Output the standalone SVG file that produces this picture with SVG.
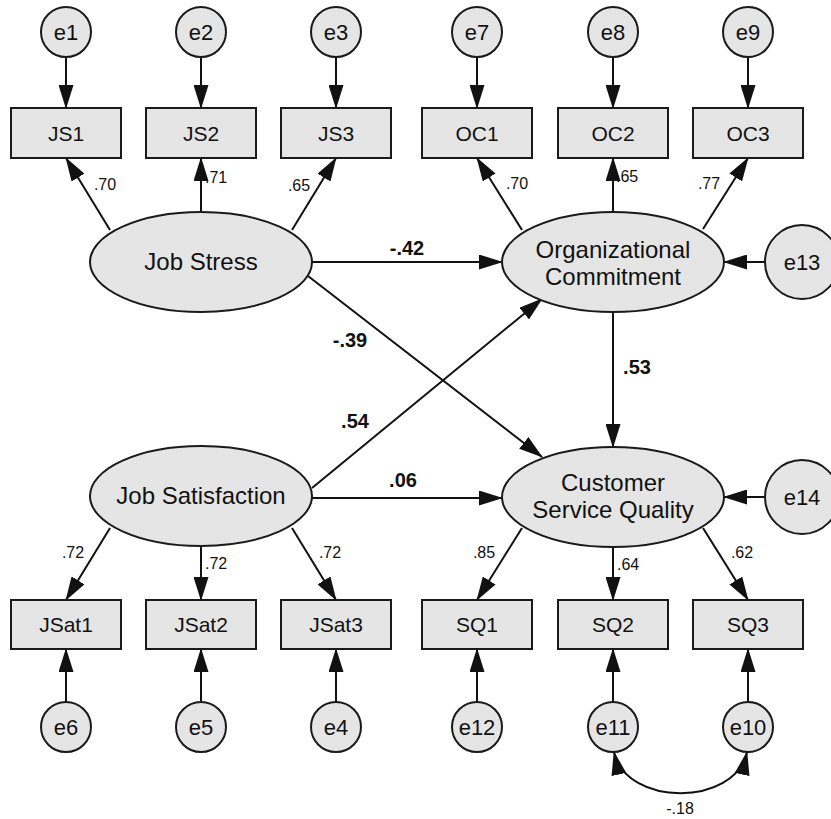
<svg xmlns="http://www.w3.org/2000/svg" width="831" height="819" viewBox="0 0 831 819">
<defs>
<style>
.nd{fill:#e5e5e5;stroke:#1a1a1a;stroke-width:2}
.t{font-family:"Liberation Sans",Arial,Helvetica,sans-serif;fill:#111;text-anchor:middle}
.lat{font-size:24px}
.obs{font-size:21px}
.err{font-size:22px}
.sm{font-family:"Liberation Sans",Arial,Helvetica,sans-serif;fill:#111;font-size:16px;text-anchor:middle}
.bd{font-family:"Liberation Sans",Arial,Helvetica,sans-serif;fill:#111;font-size:20px;font-weight:bold;text-anchor:middle}
.cn{fill:none;stroke:#111;stroke-width:2;marker-end:url(#ah)}
.cv{fill:none;stroke:#111;stroke-width:2;marker-end:url(#ah);marker-start:url(#ah2)}
</style>
<marker id="ah" viewBox="0 0 24 15" refX="23" refY="7.5" markerWidth="24" markerHeight="15" markerUnits="userSpaceOnUse" orient="auto"><path d="M0,0 L24,7.5 L0,15 z" fill="#111"/></marker>
<marker id="ah2" viewBox="0 0 24 15" refX="23" refY="7.5" markerWidth="24" markerHeight="15" markerUnits="userSpaceOnUse" orient="auto-start-reverse"><path d="M0,0 L24,7.5 L0,15 z" fill="#111"/></marker>
</defs>
<rect x="0" y="0" width="831" height="819" fill="#fff"/>

<g id="connectors">
<!-- error to top indicators -->
<line class="cn" x1="66" y1="57" x2="66" y2="108"/>
<line class="cn" x1="201" y1="57" x2="201" y2="108"/>
<line class="cn" x1="336" y1="57" x2="336" y2="108"/>
<line class="cn" x1="477" y1="57" x2="477" y2="108"/>
<line class="cn" x1="613" y1="57" x2="613" y2="108"/>
<line class="cn" x1="748" y1="57" x2="748" y2="108"/>
<!-- loadings top -->
<line class="cn" x1="110" y1="230" x2="66" y2="158"/>
<line class="cn" x1="201" y1="212" x2="201" y2="158"/>
<line class="cn" x1="292" y1="230" x2="336" y2="158"/>
<line class="cn" x1="522" y1="230" x2="477" y2="158"/>
<line class="cn" x1="613" y1="212" x2="613" y2="158"/>
<line class="cn" x1="703" y1="229" x2="748" y2="158"/>
<!-- disturbances -->
<line class="cn" x1="765" y1="262" x2="724" y2="262"/>
<line class="cn" x1="765" y1="497" x2="724" y2="497"/>
<!-- structural -->
<line class="cn" x1="312" y1="262" x2="502" y2="262"/>
<line class="cn" x1="308" y1="276" x2="542" y2="457"/>
<line class="cn" x1="312" y1="488" x2="542" y2="299"/>
<line class="cn" x1="312" y1="498" x2="502" y2="498"/>
<line class="cn" x1="613" y1="312" x2="613" y2="447"/>
<!-- loadings bottom -->
<line class="cn" x1="110" y1="528" x2="66" y2="600"/>
<line class="cn" x1="201" y1="546" x2="201" y2="600"/>
<line class="cn" x1="292" y1="528" x2="336" y2="600"/>
<line class="cn" x1="522" y1="528" x2="477" y2="600"/>
<line class="cn" x1="613" y1="547" x2="613" y2="600"/>
<line class="cn" x1="703" y1="528" x2="748" y2="600"/>
<!-- error to bottom indicators -->
<line class="cn" x1="66" y1="702" x2="66" y2="649"/>
<line class="cn" x1="201" y1="702" x2="201" y2="649"/>
<line class="cn" x1="336" y1="702" x2="336" y2="649"/>
<line class="cn" x1="477" y1="702" x2="477" y2="649"/>
<line class="cn" x1="613" y1="702" x2="613" y2="649"/>
<line class="cn" x1="748" y1="702" x2="748" y2="649"/>
<!-- covariance -->
<path class="cv" d="M614,752 C626,807 735,807 747,752"/>
<!-- labels -->
<text class="sm" x="105" y="190">.70</text>
<text class="sm" x="205" y="183" style="text-anchor:start">.71</text>
<text class="sm" x="299" y="191">.65</text>
<text class="sm" x="517" y="189">.70</text>
<text class="sm" x="616" y="182" style="text-anchor:start">.65</text>
<text class="sm" x="709" y="189">.77</text>
<text class="sm" x="73" y="558">.72</text>
<text class="sm" x="205" y="569" style="text-anchor:start">.72</text>
<text class="sm" x="330" y="558">.72</text>
<text class="sm" x="484" y="558">.85</text>
<text class="sm" x="617" y="570" style="text-anchor:start">.64</text>
<text class="sm" x="742" y="558">.62</text>
<text class="sm" x="680" y="814">-.18</text>
<text class="bd" x="407" y="255">-.42</text>
<text class="bd" x="350" y="347">-.39</text>
<text class="bd" x="355" y="428">.54</text>
<text class="bd" x="403" y="487">.06</text>
<text class="bd" x="637" y="374">.53</text>
</g>

<g id="e1"><circle class="nd" cx="66" cy="32" r="25"/><text class="t err" x="66" y="40">e1</text></g>
<g id="e2"><circle class="nd" cx="201" cy="32" r="25"/><text class="t err" x="201" y="40">e2</text></g>
<g id="e3"><circle class="nd" cx="336" cy="32" r="25"/><text class="t err" x="336" y="40">e3</text></g>
<g id="e7"><circle class="nd" cx="477" cy="32" r="25"/><text class="t err" x="477" y="40">e7</text></g>
<g id="e8"><circle class="nd" cx="613" cy="32" r="25"/><text class="t err" x="613" y="40">e8</text></g>
<g id="e9"><circle class="nd" cx="748" cy="32" r="25"/><text class="t err" x="748" y="40">e9</text></g>

<g id="JS1"><rect class="nd" x="11" y="108" width="110" height="50"/><text class="t obs" x="66" y="141">JS1</text></g>
<g id="JS2"><rect class="nd" x="146" y="108" width="110" height="50"/><text class="t obs" x="201" y="141">JS2</text></g>
<g id="JS3"><rect class="nd" x="281" y="108" width="110" height="50"/><text class="t obs" x="336" y="141">JS3</text></g>
<g id="OC1"><rect class="nd" x="422" y="108" width="110" height="50"/><text class="t obs" x="477" y="141">OC1</text></g>
<g id="OC2"><rect class="nd" x="558" y="108" width="110" height="50"/><text class="t obs" x="613" y="141">OC2</text></g>
<g id="OC3"><rect class="nd" x="693" y="108" width="110" height="50"/><text class="t obs" x="748" y="141">OC3</text></g>

<g id="JobStress"><ellipse class="nd" cx="201" cy="262" rx="111" ry="50"/><text class="t lat" x="201" y="270">Job Stress</text></g>
<g id="OrgCommitment"><ellipse class="nd" cx="613" cy="262" rx="111" ry="50"/><text class="t lat" x="613" y="258">Organizational</text><text class="t lat" x="613" y="285">Commitment</text></g>
<g id="e13"><circle class="nd" cx="802" cy="262" r="37"/><text class="t err" x="802" y="270">e13</text></g>

<g id="JobSatisfaction"><ellipse class="nd" cx="201" cy="496" rx="111" ry="50"/><text class="t lat" x="201" y="504">Job Satisfaction</text></g>
<g id="CSQ"><ellipse class="nd" cx="613" cy="497" rx="111" ry="50"/><text class="t lat" x="613" y="491">Customer</text><text class="t lat" x="613" y="518">Service Quality</text></g>
<g id="e14"><circle class="nd" cx="802" cy="497" r="37"/><text class="t err" x="802" y="505">e14</text></g>

<g id="JSat1"><rect class="nd" x="11" y="600" width="110" height="49"/><text class="t obs" x="66" y="632">JSat1</text></g>
<g id="JSat2"><rect class="nd" x="146" y="600" width="110" height="49"/><text class="t obs" x="201" y="632">JSat2</text></g>
<g id="JSat3"><rect class="nd" x="281" y="600" width="110" height="49"/><text class="t obs" x="336" y="632">JSat3</text></g>
<g id="SQ1"><rect class="nd" x="422" y="600" width="110" height="49"/><text class="t obs" x="477" y="632">SQ1</text></g>
<g id="SQ2"><rect class="nd" x="558" y="600" width="110" height="49"/><text class="t obs" x="613" y="632">SQ2</text></g>
<g id="SQ3"><rect class="nd" x="693" y="600" width="110" height="49"/><text class="t obs" x="748" y="632">SQ3</text></g>

<g id="e6"><circle class="nd" cx="66" cy="727" r="25"/><text class="t err" x="66" y="735">e6</text></g>
<g id="e5"><circle class="nd" cx="201" cy="727" r="25"/><text class="t err" x="201" y="735">e5</text></g>
<g id="e4"><circle class="nd" cx="336" cy="727" r="25"/><text class="t err" x="336" y="735">e4</text></g>
<g id="e12"><circle class="nd" cx="477" cy="727" r="25"/><text class="t err" x="477" y="735">e12</text></g>
<g id="e11"><circle class="nd" cx="613" cy="727" r="25"/><text class="t err" x="613" y="735">e11</text></g>
<g id="e10"><circle class="nd" cx="748" cy="727" r="25"/><text class="t err" x="748" y="735">e10</text></g>
</svg>
